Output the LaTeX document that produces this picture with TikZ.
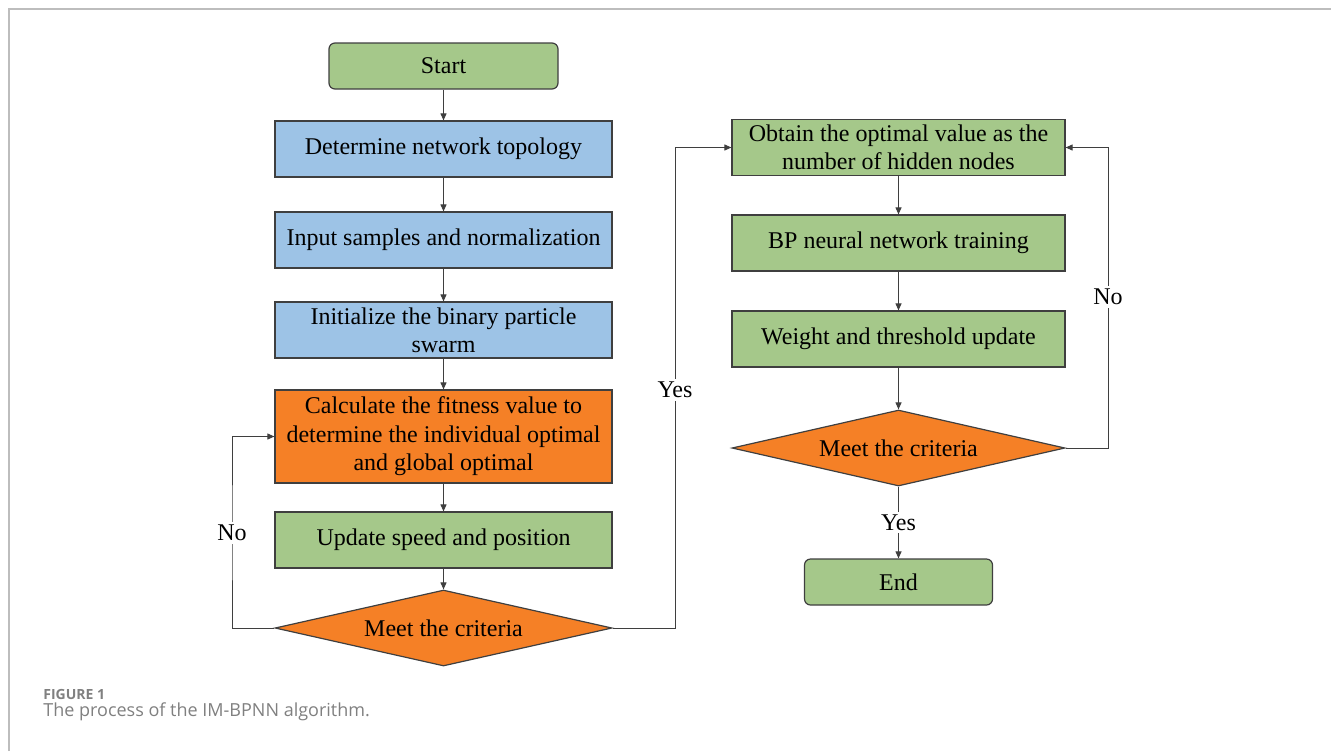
\documentclass[tikz,border=0pt]{standalone}
\usepackage{fontspec}
\setmainfont{Liberation Serif}
\newfontfamily\capfont{Open Sans}
\usetikzlibrary{arrows.meta,shapes.geometric}

\definecolor{boxgreen}{HTML}{A5C88A}
\definecolor{boxblue}{HTML}{9DC3E6}
\definecolor{boxorange}{HTML}{F58026}
\definecolor{edgegray}{HTML}{3F3F3F}
\definecolor{framegray}{HTML}{BDBDBD}
\definecolor{capgray}{HTML}{808080}

\begin{document}
\begin{tikzpicture}[x=0.5pt, y=-0.5pt, >={Triangle[length=3.5pt,width=3pt]},
  every node/.style={font=\fontsize{12}{14.2}\selectfont, align=center,
    inner sep=0pt, text=black},
  procbox/.style={draw=edgegray, line width=0.6pt, minimum width=168.5pt,
    minimum height=28pt},
  termbox/.style={procbox, rounded corners=3pt, fill=boxgreen},
  decbox/.style={diamond, draw=edgegray, line width=0.6pt, fill=boxorange,
    aspect=4.4, minimum width=168.5pt, minimum height=38pt},
  flow/.style={->, line width=0.5pt, edgegray},
  lbl/.style={fill=white, inner sep=1.5pt}]
  \useasboundingbox (0,0) rectangle (1331,751);
  % frame of the figure
  \draw[framegray, line width=1pt] (9,751) -- (9,9) -- (1331,9);

  % left column
  \node[termbox, minimum width=114.5pt, minimum height=23pt] (start) at (443.5,66) {Start};
  \node[procbox, fill=boxblue] (topo) at (443.5,149) {Determine network topology};
  \node[procbox, fill=boxblue] (input) at (443.5,240) {Input samples and normalization};
  \node[procbox, fill=boxblue] (init) at (443.5,330) {Initialize the binary particle\\swarm};
  \node[procbox, fill=boxorange, minimum height=46.5pt] (fit) at (443.5,436.5)
    {Calculate the fitness value to\\determine the individual optimal\\and global optimal};
  \node[procbox, fill=boxgreen] (upd) at (443.5,540) {Update speed and position};
  \node[decbox] (crit1) at (443.5,628) {Meet the criteria};

  % right column
  \node[procbox, fill=boxgreen, minimum width=166.5pt] (hid) at (898.5,147.5)
    {Obtain the optimal value as the\\number of hidden nodes};
  \node[procbox, fill=boxgreen, minimum width=166.5pt] (bp) at (898.5,243) {BP neural network training};
  \node[procbox, fill=boxgreen, minimum width=166.5pt] (wt) at (898.5,339) {Weight and threshold update};
  \node[decbox, minimum width=166.5pt] (crit2) at (898.5,448) {Meet the criteria};
  \node[termbox, minimum width=94pt, minimum height=23pt] (end) at (898.5,582) {End};

  % main flow
  \draw[flow] (start) -- (topo);
  \draw[flow] (topo) -- (input);
  \draw[flow] (input) -- (init);
  \draw[flow] (init) -- (fit);
  \draw[flow] (fit) -- (upd);
  \draw[flow] (upd) -- (crit1);
  \draw[flow] (hid) -- (bp);
  \draw[flow] (bp) -- (wt);
  \draw[flow] (wt) -- (crit2);

  % loops and exits
  \draw[flow] (crit1.west) -| (232,533) node[lbl] {No} |- (fit.west);
  \draw[flow] (crit1.east) -| (675,390) node[lbl] {Yes} |- (hid.west);
  \draw[flow] (crit2.east) -| (1108,297) node[lbl] {No} |- (hid.east);
  \draw[flow] (crit2.south) -- node[lbl] {Yes} (end.north);

  % caption
  \node[anchor=base west, font=\capfont\fontsize{7}{8}\selectfont\bfseries,
    text=capgray] (fignum) at (43,699) {FIGURE 1};
  \node[anchor=base west, font=\capfont\fontsize{9}{10}\selectfont,
    text=capgray] (figcap) at (43,716) {The process of the IM-BPNN algorithm.};
\end{tikzpicture}
\end{document}
